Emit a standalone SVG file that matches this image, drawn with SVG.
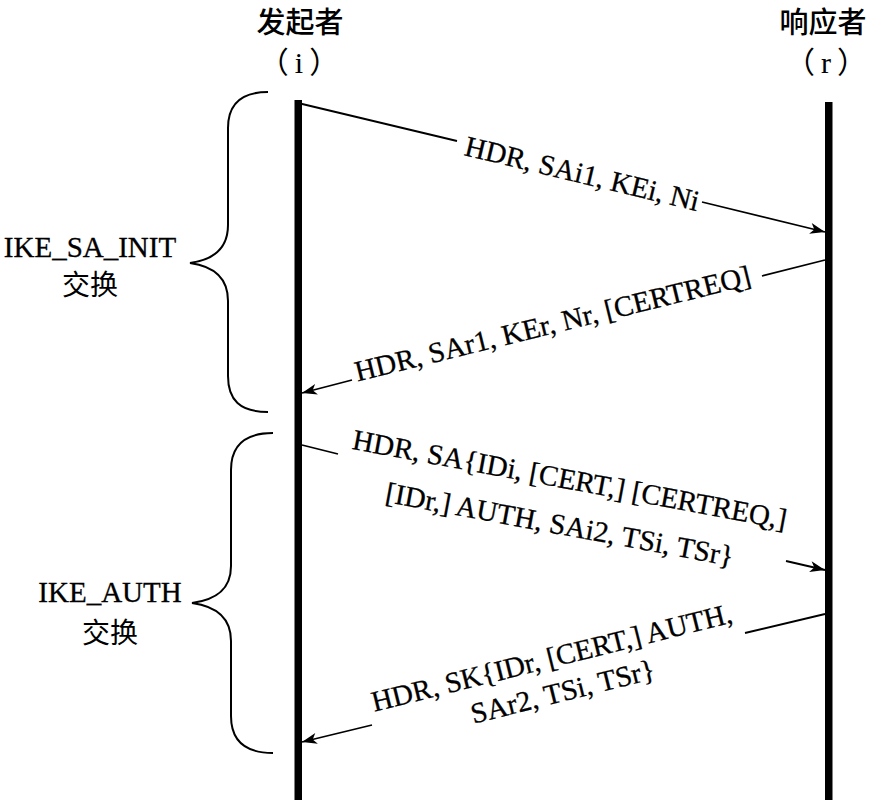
<svg xmlns="http://www.w3.org/2000/svg" width="872" height="800" viewBox="0 0 872 800">
<style>
.t{font-family:"Liberation Serif","Noto Sans CJK SC",serif;font-size:29px;fill:#000;text-anchor:middle;stroke:#000;stroke-width:0.3}
.cj{font-family:"Noto Sans CJK SC",sans-serif;font-size:28px;fill:#000;text-anchor:middle}
.hcj{font-family:"Noto Sans CJK SC",sans-serif;font-size:29px;fill:#000;text-anchor:middle;font-weight:500}
.hd{font-family:"Liberation Serif","Noto Sans CJK SC",serif;font-size:30px;fill:#000;text-anchor:middle;letter-spacing:6px}
.life{fill:#000}
.msg{stroke:#000;stroke-width:1.8;fill:none}
.brace{stroke:#000;stroke-width:2;fill:none}
</style>
<defs>
<marker id="ah" markerUnits="userSpaceOnUse" markerWidth="20" markerHeight="14" viewBox="-16 -7 18 14" refX="0" refY="0" orient="auto">
<path d="M0,0 L-15,-5.5 L-11,0 L-15,5.5 Z" fill="#000"/>
</marker>
</defs>
<rect width="872" height="800" fill="#fff"/>
<g id="initiator">
<text class="hcj" x="300" y="33">发起者</text>
<text class="hd" x="302" y="73">（i）</text>
<rect class="life" x="294.5" y="100" width="7.5" height="700"/>
</g>
<g id="responder">
<text class="hcj" x="823" y="33">响应者</text>
<text class="hd" x="829" y="73">（r）</text>
<rect class="life" x="825" y="102" width="7.5" height="698"/>
</g>
<g id="ike_sa_init">
<path class="brace" d="M268,92 C240,92 228,105 228,128 L228,225 C228,250 212,260 190,263 C212,266 228,276 228,301 L228,376 C228,400 240,412 268,412"/>
<text class="t" x="90" y="257">IKE_SA_INIT</text>
<text class="cj" x="90" y="295">交换</text>
</g>
<g id="ike_auth">
<path class="brace" d="M273,433 C244,433 231,446 231,470 L231,566 C231,591 214,600 192,603 C214,606 231,616 231,641 L231,716 C231,740 244,753 273,753"/>
<text class="t" x="110" y="602">IKE_AUTH</text>
<text class="cj" x="110" y="643">交换</text>
</g>
<g id="connectors">
<path class="msg" d="M298,103 L457,141"/>
<path class="msg" d="M702,202 L825,232" marker-end="url(#ah)"/>
<text class="t" x="580" y="183" transform="rotate(13.5 580 183)">HDR, SAi1, KEi, Ni</text>
<path class="msg" d="M825,260 L762,276"/>
<path class="msg" d="M352,380 L302,393" marker-end="url(#ah)"/>
<text class="t" x="555" y="333" transform="rotate(-13.8 555 333)">HDR, SAr1, KEr, Nr, [CERTREQ]</text>
<path class="msg" d="M302,445 L338,454"/>
<path class="msg" d="M786,561 L825,570" marker-end="url(#ah)"/>
<text class="t" x="568" y="489" transform="rotate(10.5 568 489)">HDR, SA{IDi, [CERT,] [CERTREQ,]</text>
<text class="t" x="558" y="534" transform="rotate(10.5 558 534)">[IDr,] AUTH, SAi2, TSi, TSr}</text>
<path class="msg" d="M825,614 L745,633"/>
<path class="msg" d="M372,725 L302,742" marker-end="url(#ah)"/>
<text class="t" x="554" y="667" transform="rotate(-14 554 667)">HDR, SK{IDr, [CERT,] AUTH,</text>
<text class="t" x="565" y="701" transform="rotate(-14 565 701)">SAr2, TSi, TSr}</text>
</g>
</svg>
